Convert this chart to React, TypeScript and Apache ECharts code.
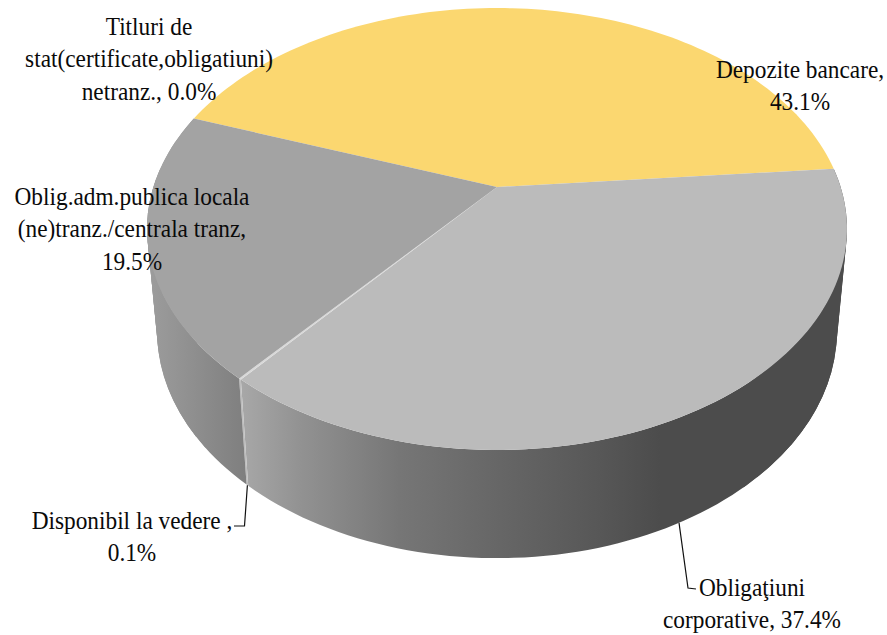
import React, { useEffect, useRef } from "react";
import * as echarts from "echarts";

const categories = ["Depozite bancare", "Obligaţiuni corporative", "Disponibil la vedere", "Oblig.adm.publica locala (ne)tranz./centrala tranz", "Titluri de stat(certificate,obligatiuni) netranz."];
const values = [43.1, 37.4, 0.1, 19.5, 0.0];
const topColors = ["#FBD770", "#BBBBBB", "#D8D8D8", "#A3A3A3", "#FFFFFF"];
const labelLines = [
  ["Depozite bancare,", "43.1%"],
  ["Obligaţiuni", "corporative, 37.4%"],
  ["Disponibil la vedere ,", "0.1%"],
  ["Oblig.adm.publica locala", "(ne)tranz./centrala tranz,", "19.5%"],
  ["Titluri de", "stat(certificate,obligatiuni)", "netranz., 0.0%"],
];

const CX = 497;
const TOP = { cy: 187, a: 343.6, b: 213, p: 0.19 };
const BOT = { cy: 288, a: 333.7, b: 218.8, p: 0.19 };
const START = -160;
const total = values.reduce((s, v) => s + v, 0);
const bounds: number[] = [START];
values.forEach((v) => bounds.push(bounds[bounds.length - 1] + (v / total) * 360));

function project(ring: typeof TOP, deg: number): number[] {
  const r = (deg * Math.PI) / 180;
  const X = Math.cos(r);
  const Y = Math.sin(r);
  const d = 1 - ring.p * Y;
  return [CX + (ring.a * X) / d, ring.cy + (ring.b * Y) / d];
}
function arc(ring: typeof TOP, from: number, to: number): number[][] {
  const n = Math.max(1, Math.ceil(Math.abs(to - from) / 1.5));
  const out: number[][] = [];
  for (let i = 0; i <= n; i++) out.push(project(ring, from + ((to - from) * i) / n));
  return out;
}
function hGrad(x: number, x2: number, stops: [number, string][]) {
  return {
    type: "linear", x, y: 0, x2, y2: 0, global: true,
    colorStops: stops.map(([offset, color]) => ({ offset, color })),
  };
}
const wallFills: any[] = [
  null,
  hGrad(240, 660, [[0, "#A8A8A8"], [0.143, "#929292"], [0.38, "#767676"], [0.62, "#666666"], [0.857, "#575757"], [1, "#4C4C4C"]]),
  "#BDBDBD",
  hGrad(150, 245, [[0, "#9C9C9C"], [1, "#7F7F7F"]]),
  null,
];

// Sweep ranges whose quads fill the notch between the two rim curves at the silhouette.
const hullRanges: number[][] = [[], [6, 48], [], [140, 182], []];

const renderWall = (params: any) => {
  const i = params.dataIndex;
  const fill = wallFills[i];
  if (!fill || values[i] === 0) return { type: "group", children: [] };
  const children: any[] = [];
  const hull = hullRanges[i];
  if (hull.length) {
    for (let a = hull[0]; a < hull[1]; a += 3) {
      children.push({
        type: "polygon",
        shape: { points: [project(TOP, a), project(TOP, a + 6), project(BOT, a + 6), project(BOT, a)] },
        style: { fill },
      });
    }
  }
  const from = bounds[i];
  const to = bounds[i + 1];
  children.push({
    type: "polygon",
    shape: { points: [...arc(TOP, from, to), ...arc(BOT, to, from)] },
    style: { fill },
  });
  return { type: "group", children };
};
const renderTop = (params: any) => {
  const i = params.dataIndex;
  if (values[i] === 0) return { type: "group", children: [] };
  return {
    type: "polygon",
    shape: { points: [[CX, TOP.cy], ...arc(TOP, bounds[i], bounds[i + 1])] },
    style: { fill: topColors[i] },
  };
};

const labelPos = [
  { x: 800, y: 69 },
  { x: 752, y: 587 },
  { x: 132, y: 520 },
  { x: 132, y: 196 },
  { x: 149, y: 26 },
];
const LINE_H = 32.6;
const FONT = "25px 'Liberation Serif'";
const TEXT_SCALE = 0.933;

function buildGraphic() {
  const els: any[] = [];
  labelLines.forEach((lines, i) => {
    lines.forEach((text, j) => {
      els.push({
        type: "text", z: 100,
        x: labelPos[i].x, y: labelPos[i].y + j * LINE_H, scaleX: TEXT_SCALE,
        style: { text, font: FONT, fill: "#0A0A0A", align: "center", verticalAlign: "middle" },
      });
    });
  });
  const midObl = project(BOT, (bounds[1] + bounds[2]) / 2 + 0.8);
  const midDisp = project(BOT, (bounds[2] + bounds[3]) / 2);
  els.push({
    type: "polyline", z: 90,
    shape: { points: [midObl, [688, 588], [696, 589]] },
    style: { fill: "none", stroke: "#111111", lineWidth: 1.2 },
  });
  els.push({
    type: "polyline", z: 90,
    shape: { points: [midDisp, [244.5, 526], [234, 526]] },
    style: { fill: "none", stroke: "#111111", lineWidth: 1.2 },
  });
  return els;
}

export default function App() {
  const ref = useRef<HTMLDivElement>(null);
  useEffect(() => {
    const chart = echarts.init(ref.current!, undefined, { renderer: "svg" });
    chart.setOption({
      animation: false,
      backgroundColor: "#FFFFFF",
      series: [
        { type: "custom", coordinateSystem: "none", z: 1, renderItem: renderWall, data: categories.map((name, i) => ({ name, value: values[i] })), silent: true },
        { type: "custom", coordinateSystem: "none", z: 2, renderItem: renderTop, data: categories.map((name, i) => ({ name, value: values[i] })), silent: true },
      ],
      graphic: { elements: buildGraphic() },
    });
    return () => chart.dispose();
  }, []);
  return <div ref={ref} style={{ position: "fixed", left: 0, top: 0, width: 887, height: 635 }} />;
}
